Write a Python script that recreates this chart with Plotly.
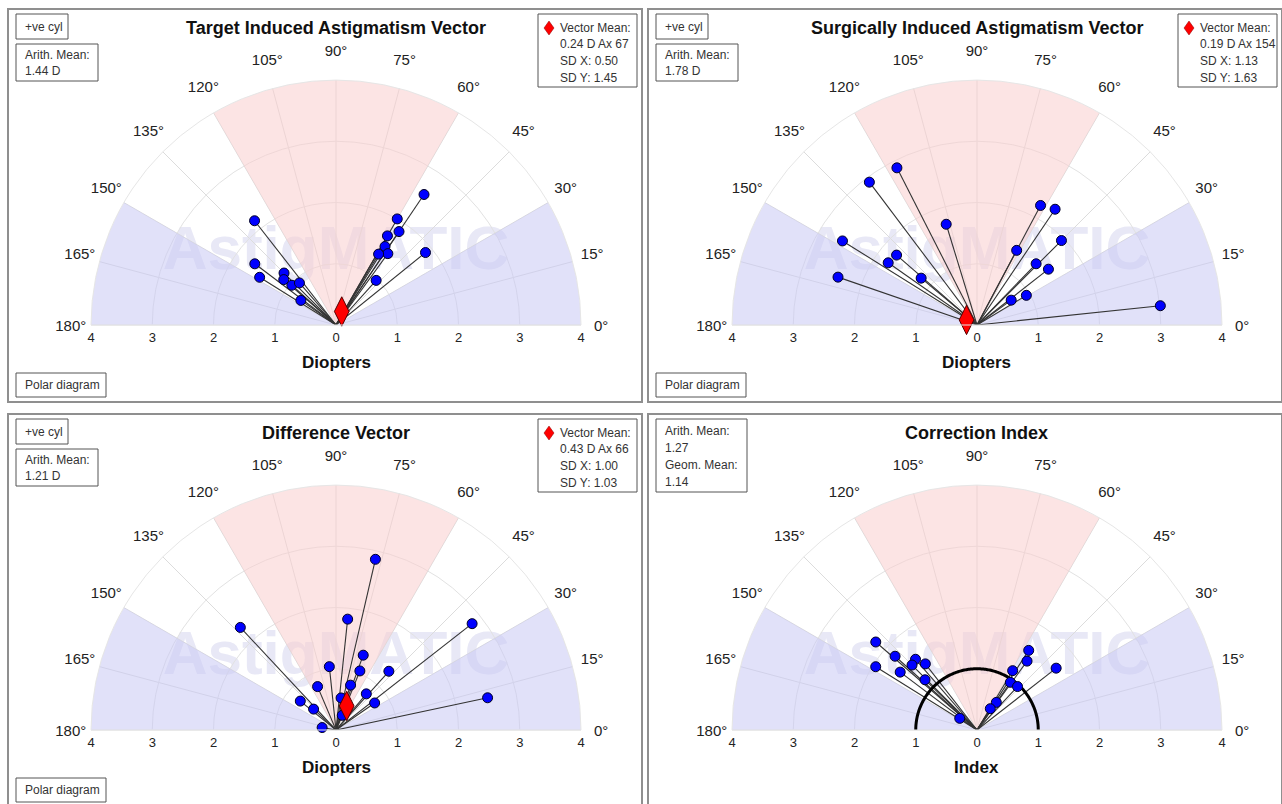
import numpy as np
import plotly.graph_objects as go

W, H = 1282, 804
FONT = "Arial, Liberation Sans, sans-serif"

# ---------------- data ----------------
panel_titles = ["Target Induced Astigmatism Vector", "Surgically Induced Astigmatism Vector",
                "Difference Vector", "Correction Index"]
axis_titles = ["Diopters", "Diopters", "Diopters", "Index"]

tia_mag = [2.16, 1.66, 1.47, 1.20, 1.13, 0.97, 0.91, 0.70, 2.57, 2.00, 1.84, 1.68, 1.51, 1.44, 1.35, 1.88, 0.98]
tia_axis = [128, 143, 148, 135, 139, 138, 131, 145, 56, 60, 56, 60, 58, 54, 59, 39, 48]

sia_mag = [2.88, 2.92, 1.72, 2.59, 1.74, 1.77, 1.19, 2.40, 2.21, 2.28, 1.95, 1.38, 1.39, 1.48, 0.94, 0.69, 3.01]
sia_axis = [117, 127, 107, 148, 139, 145, 140, 161, 62, 56, 45, 62, 46, 38, 31, 36, 6]

dv_mag = [2.86, 2.29, 1.82, 2.82, 1.30, 1.04, 1.04, 1.29, 0.77, 0.77, 0.77, 0.75, 0.50, 0.53, 0.77, 2.53, 0.26, 0.23]
dv_axis = [77, 133, 84, 38, 70, 96, 68, 48, 113, 72, 50, 141, 137, 81, 35, 12, 67, 170]

ci_mag = [2.19, 1.95, 1.80, 1.57, 1.53, 1.50, 1.37, 1.18, 0.34, 1.55, 1.39, 1.13, 1.64, 0.95, 0.97, 0.55, 0.41]
ci_axis = [139, 148, 138, 143, 131, 135, 128, 136, 146, 57, 54, 59, 38, 55, 47, 55, 58]

mean_mag = [0.24, 0.19, 0.43]
mean_axis = [67, 154, 66]
sd_x = [0.50, 1.13, 1.00]
sd_y = [1.45, 1.63, 1.03]
arith_mean = ["1.44 D", "1.78 D", "1.21 D"]
ci_arith_mean = "1.27"
ci_geom_mean = "1.14"

angle_ticks = list(range(0, 181, 15))
angle_labels = [f"{a}°" for a in angle_ticks]
dist_ticks = [-4, -3, -2, -1, 0, 1, 2, 3, 4]
dist_labels = ["4", "3", "2", "1", "0", "1", "2", "3", "4"]

sector_center = [90, 15, 165]
sector_width = [60, 30, 30]
sector_color = ["rgba(250,206,206,0.55)", "rgba(200,200,244,0.55)", "rgba(200,200,244,0.55)"]

series_mag = [tia_mag, sia_mag, dv_mag, ci_mag]
series_axis = [tia_axis, sia_axis, dv_axis, ci_axis]

# ---------------- geometry helpers ----------------
def px(x):
    return x / W


def py(y):
    return 1 - y / H


CX, CY, R = 336, 325, 245
S = R / 4.0          # pixels per diopter
LABEL_RX, LABEL_RY, LABEL_DY = 4.33, 4.49, -0.03   # placement of the angle labels (axis units)
XR, YLO, YHI = 4.8, -0.3, 4.8   # extent of the cartesian overlay (axis units)
offsets = [(0, 0), (641, 0), (0, 405), (641, 405)]

fig = go.Figure()
shapes = []
annotations = []
layout_extra = {}


def box(x0, y0, x1, y1, color="#555555", width=1):
    shapes.append(dict(type="rect", xref="paper", yref="paper",
                       x0=px(x0), x1=px(x1), y0=py(y1), y1=py(y0),
                       line=dict(color=color, width=width), fillcolor="rgba(0,0,0,0)"))


def text(x, y, s, size=12, color="#333333", xanchor="left", bold=False):
    annotations.append(dict(xref="paper", yref="paper", x=px(x), y=py(y), text=(f"<b>{s}</b>" if bold else s),
                            showarrow=False, xanchor=xanchor, yanchor="middle",
                            font=dict(family=FONT, size=size, color=color)))


ang_rad = np.deg2rad(angle_ticks)
label_x = LABEL_RX * np.cos(ang_rad)
label_y = LABEL_RY * np.sin(ang_rad) + LABEL_DY

for i in range(4):
    dx, dy = offsets[i]
    cx, cy = CX + dx, CY + dy
    pname = "polar" if i == 0 else f"polar{i+1}"
    xname = "x" if i == 0 else f"x{i+1}"
    yname = "y" if i == 0 else f"y{i+1}"
    xdom = [px(cx - R), px(cx + R)]
    ydom = [py(cy), py(cy - R)]

    # shaded sectors
    for c, w, col in zip(sector_center, sector_width, sector_color):
        fig.add_trace(go.Barpolar(r=[4], theta=[c], width=[w], marker=dict(color=col, line=dict(width=0)),
                                  subplot=pname, hoverinfo="skip", showlegend=False))

    mag = series_mag[i]
    ax = series_axis[i]
    rr, tt = [], []
    for m, a in zip(mag, ax):
        rr += [0, m, None]
        tt += [a, a, None]
    fig.add_trace(go.Scatterpolar(r=rr, theta=tt, mode="lines", line=dict(color="#333333", width=1.1),
                                  subplot=pname, hoverinfo="skip", showlegend=False, connectgaps=False))
    if i == 3:
        th = np.arange(0, 181, 1)
        fig.add_trace(go.Scatterpolar(r=np.ones_like(th, dtype=float), theta=th, mode="lines",
                                      line=dict(color="black", width=3), subplot=pname,
                                      hoverinfo="skip", showlegend=False))
    fig.add_trace(go.Scatterpolar(r=mag, theta=ax, mode="markers",
                                  marker=dict(color="#0000ff", size=10, line=dict(color="#000022", width=1)),
                                  subplot=pname, showlegend=False))
    if i < 3:
        fig.add_trace(go.Scatterpolar(r=[mean_mag[i]], theta=[mean_axis[i]], mode="markers",
                                      marker=dict(symbol="diamond-tall", color="#ff0000", size=21,
                                                  line=dict(color="#550000", width=1)),
                                      subplot=pname, showlegend=False))

    layout_extra[pname] = dict(
        domain=dict(x=xdom, y=ydom), sector=[0, 180], bgcolor="rgba(0,0,0,0)",
        radialaxis=dict(range=[0, 4], tickvals=[1, 2, 3, 4], showticklabels=False, ticks="",
                        showline=False, gridcolor="#e2e2e2", gridwidth=1),
        angularaxis=dict(rotation=0, direction="counterclockwise", tickmode="array",
                         tickvals=angle_ticks, showticklabels=False, showline=True,
                         linecolor="#e6e6e6", gridcolor="#dcdcdc", ticks=""),
    )

    # cartesian overlay (same scale as the polar): watermark, angle labels, diopter scale
    cxdom = [px(cx - XR * S), px(cx + XR * S)]
    cydom = [py(cy - YLO * S), py(cy - YHI * S)]
    fig.add_trace(go.Scatter(x=[0], y=[1.16], mode="text", text=["<b>AstigMATIC</b>"],
                             textfont=dict(family=FONT, size=62, color="rgb(232,232,246)"),
                             xaxis=xname, yaxis=yname, hoverinfo="skip", showlegend=False))
    fig.add_trace(go.Scatter(x=label_x, y=label_y, mode="text", text=angle_labels,
                             textposition="middle center", cliponaxis=False,
                             textfont=dict(family=FONT, size=15, color="#222222"),
                             xaxis=xname, yaxis=yname, hoverinfo="skip", showlegend=False))
    xk = "xaxis" if i == 0 else f"xaxis{i+1}"
    yk = "yaxis" if i == 0 else f"yaxis{i+1}"
    layout_extra[xk] = dict(domain=cxdom, range=[-XR, XR], tickmode="array", tickvals=dist_ticks,
                            ticktext=dist_labels, showgrid=False, zeroline=False, showline=False,
                            ticks="", anchor="free", position=py(cy), fixedrange=True,
                            ticklabelstandoff=3,
                            tickfont=dict(family=FONT, size=13, color="#222222"))
    layout_extra[yk] = dict(domain=cydom, range=[YLO, YHI], visible=False, anchor=xname, fixedrange=True)

    # frame
    fx = dx - (1 if i % 2 else 0)
    box(8 + fx, 9 + dy, 642 + fx, 402 + dy + (1 if i >= 2 else 0), color="#8f8f8f", width=2)
    # title & axis title
    text(cx, 28 + dy, panel_titles[i], size=18, color="#111111", xanchor="center", bold=True)
    text(cx, 362 + dy, axis_titles[i], size=17, color="#111111", xanchor="center", bold=True)

    if i < 3:
        box(16 + fx, 14 + dy, 68 + fx, 39 + dy)
        text(23 + fx, 27 + dy, "+ve cyl")
        box(16 + fx, 44 + dy, 98 + fx, 81 + dy)
        text(23 + fx, 55 + dy, "Arith. Mean:")
        text(23 + fx, 71 + dy, arith_mean[i])
        box(16 + fx, 373 + dy, 106 + fx, 397 + dy)
        text(23 + fx, 385 + dy, "Polar diagram")
        box(538 + fx, 14 + dy, 637 + fx, 87 + dy)
        dxm, dym = 549 + fx, 28 + dy
        shapes.append(dict(type="path", xref="paper", yref="paper",
                           path=(f"M {px(dxm)},{py(dym-7)} L {px(dxm+5)},{py(dym)} "
                                 f"L {px(dxm)},{py(dym+7)} L {px(dxm-5)},{py(dym)} Z"),
                           fillcolor="#ff0000", line=dict(color="#880000", width=0.5)))
        text(558 + fx, 28 + dy, "Vector Mean:")
        text(558 + fx, 44 + dy, f"{mean_mag[i]:.2f} D Ax {mean_axis[i]}")
        text(558 + fx, 61 + dy, f"SD X: {sd_x[i]:.2f}")
        text(558 + fx, 78 + dy, f"SD Y: {sd_y[i]:.2f}")
    else:
        box(16 + fx, 14 + dy, 107 + fx, 87 + dy)
        text(23 + fx, 26 + dy, "Arith. Mean:")
        text(23 + fx, 43 + dy, ci_arith_mean)
        text(23 + fx, 60 + dy, "Geom. Mean:")
        text(23 + fx, 77 + dy, ci_geom_mean)

fig.update_layout(
    template="none", width=W, height=H, margin=dict(l=0, r=0, t=0, b=0, pad=0),
    paper_bgcolor="white", plot_bgcolor="rgba(0,0,0,0)", showlegend=False,
    font=dict(family=FONT), shapes=shapes, annotations=annotations, **layout_extra,
)

fig.write_html("out.html", config={"displayModeBar": False},
               post_script="document.body.style.margin='0';")
